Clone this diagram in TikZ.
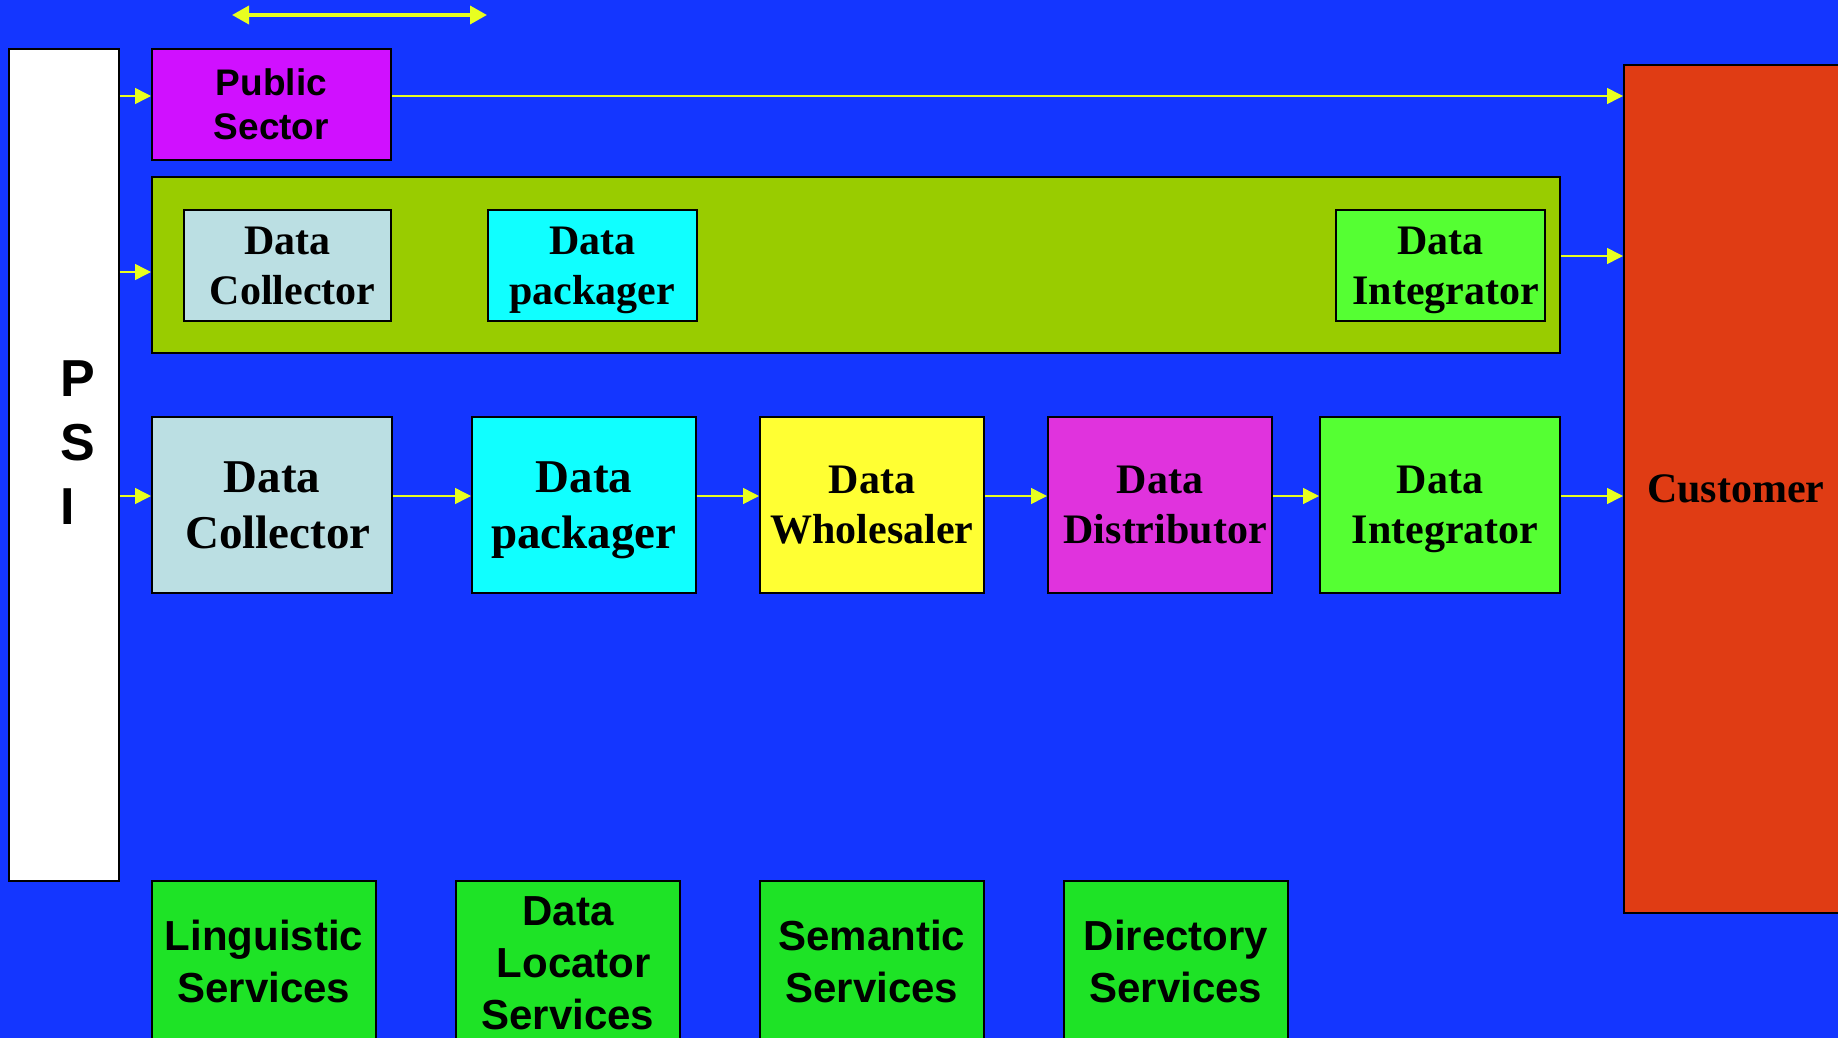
\documentclass[tikz,border=0pt]{standalone}
\usepackage{fontspec}
\setmainfont{Liberation Serif}
\setsansfont{Liberation Sans}
\usetikzlibrary{arrows.meta}
\definecolor{bgblue}{RGB}{20,54,255}
\definecolor{pubmag}{RGB}{208,16,255}
\definecolor{olive}{RGB}{153,204,0}
\definecolor{collgray}{RGB}{187,223,227}
\definecolor{packcyan}{RGB}{16,255,255}
\definecolor{integgreen}{RGB}{85,255,51}
\definecolor{wholeyellow}{RGB}{255,255,51}
\definecolor{distmag}{RGB}{224,51,221}
\definecolor{custred}{RGB}{224,60,20}
\definecolor{servgreen}{RGB}{30,227,38}
\definecolor{arrowyellow}{RGB}{232,255,32}
\begin{document}
\begin{tikzpicture}[x=1pt,y=-1pt,
  box/.style={draw=black, line width=1.8pt, inner sep=0pt, anchor=north west, align=center},
  serifA/.style={font=\fontsize{42}{50}\selectfont\bfseries, text depth=0pt},
  serifB/.style={font=\fontsize{47}{56}\selectfont\bfseries, text depth=0pt},
  sansS/.style={font=\sffamily\fontsize{42}{52}\selectfont\bfseries},
  sansP/.style={font=\sffamily\fontsize{37}{44}\selectfont\bfseries},
  arr/.style={draw=arrowyellow, line width=1.5pt, -{Triangle[length=16pt,width=16pt]}},
  dbl/.style={draw=arrowyellow, line width=3.5pt, {Triangle[length=17pt,width=18pt]}-{Triangle[length=17pt,width=18pt]}},
]
\useasboundingbox (0,0) rectangle (1838,1038);
\fill[bgblue] (0,0) rectangle (1838,1038);
\begin{scope}
\clip (0,0) rectangle (1838,1038);

% PSI
\node[box, fill=white, minimum width=110pt, minimum height=832pt] (psi) at (8,48) {};
\node[font=\sffamily\fontsize{52}{64}\selectfont\bfseries, align=left, anchor=west, inner sep=0pt] (psilabel) at (60.5,443) {P\\S\\I};

% Customer
\node[box, fill=custred, serifA, minimum width=224pt, minimum height=848pt] (cust) at (1623,64) {Customer};

% Public sector
\node[box, fill=pubmag, sansP, minimum width=239pt, minimum height=111pt] (pub) at (151,48) {Public\\Sector};

% Container
\node[box, fill=olive, minimum width=1408pt, minimum height=176pt] (cont) at (151,176) {};
\node[box, fill=collgray, serifA, minimum width=207pt, minimum height=111pt] (dc1) at (183,209) {Data\\\hspace*{0.25em}Collector};
\node[box, fill=packcyan, serifA, minimum width=209pt, minimum height=111pt] (dp1) at (487,209) {Data\\packager};
\node[box, fill=integgreen, serifA, minimum width=209pt, minimum height=111pt] (di1) at (1335,209) {Data\\\hspace*{0.25em}Integrator};

% Row 3
\node[box, fill=collgray, serifB, minimum width=240pt, minimum height=176pt] (dc2) at (151,416) {Data\\\hspace*{0.25em}Collector};
\node[box, fill=packcyan, serifB, minimum width=224pt, minimum height=176pt] (dp2) at (471,416) {Data\\packager};
\node[box, fill=wholeyellow, serifA, minimum width=224pt, minimum height=176pt] (dw2) at (759,416) {Data\\Wholesaler};
\node[box, fill=distmag, serifA, minimum width=224pt, minimum height=176pt] (dd2) at (1047,416) {Data\\\hspace*{0.25em}Distributor};
\node[box, fill=integgreen, serifA, minimum width=240pt, minimum height=176pt] (di2) at (1319,416) {Data\\\hspace*{0.25em}Integrator};

% Services
\node[box, fill=servgreen, sansS, minimum width=224pt, minimum height=162pt] (ling) at (151,880) {Linguistic\\Services};
\node[box, fill=servgreen, sansS, minimum width=224pt, minimum height=165pt] (loc) at (455,880) {Data\\\hspace*{0.278em}Locator\\Services};
\node[box, fill=servgreen, sansS, minimum width=224pt, minimum height=162pt] (sem) at (759,880) {Semantic\\Services};
\node[box, fill=servgreen, sansS, minimum width=224pt, minimum height=162pt] (dir) at (1063,880) {Directory\\Services};

% row coordinates
\coordinate (r1) at (0,96);
\coordinate (r2in) at (0,272);
\coordinate (r2out) at (0,256);
\coordinate (r3) at (0,496);

% arrows
\draw[arr] (psi.east |- r1) -- (pub.west |- r1);
\draw[arr] (pub.east |- r1) -- (cust.west |- r1);
\draw[arr] (psi.east |- r2in) -- (cont.west |- r2in);
\draw[arr] (cont.east |- r2out) -- (cust.west |- r2out);
\draw[arr] (psi.east |- r3) -- (dc2.west |- r3);
\draw[arr] (dc2.east |- r3) -- (dp2.west |- r3);
\draw[arr] (dp2.east |- r3) -- (dw2.west |- r3);
\draw[arr] (dw2.east |- r3) -- (dd2.west |- r3);
\draw[arr] (dd2.east |- r3) -- (di2.west |- r3);
\draw[arr] (di2.east |- r3) -- (cust.west |- r3);

% top double arrow
\coordinate (da) at (232,15);
\coordinate (db) at (487,15);
\draw[dbl] (da) -- (db);
\end{scope}
\end{tikzpicture}
\end{document}
